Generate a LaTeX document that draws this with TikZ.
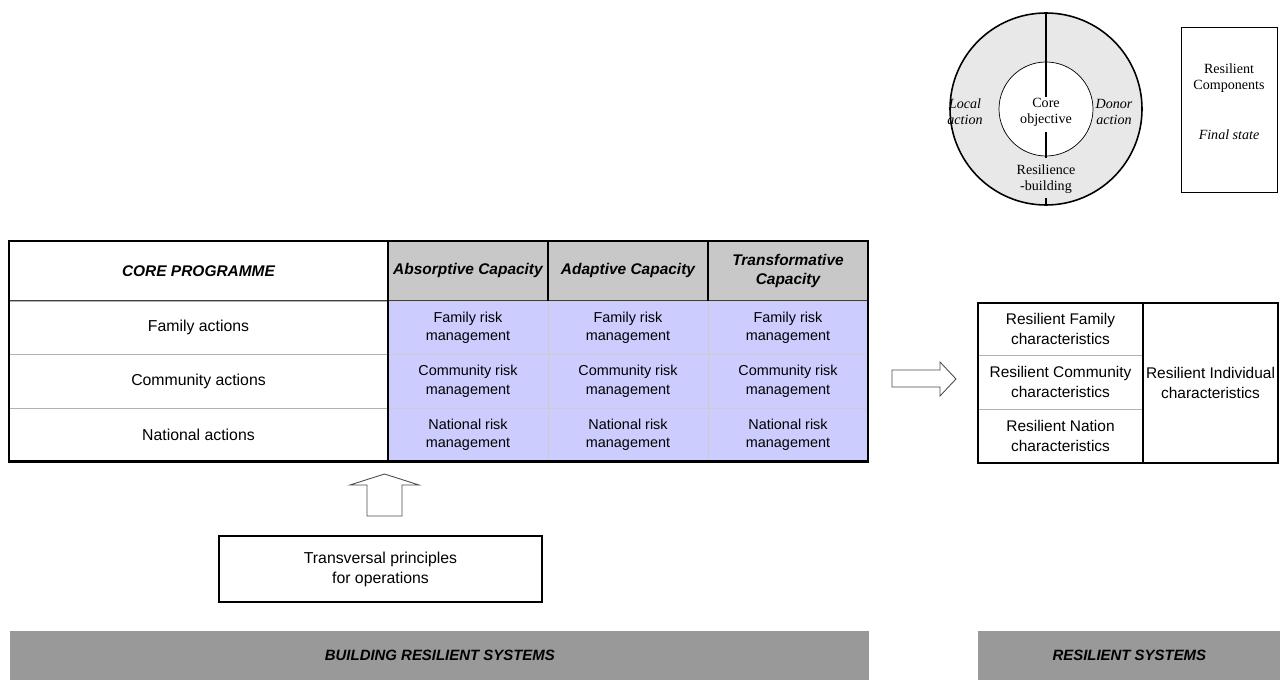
\documentclass[tikz,border=0pt]{standalone}
\usepackage{fontspec}
\setmainfont{Liberation Sans}
\newfontfamily\serifface{Liberation Serif}
\usetikzlibrary{positioning}
\definecolor{headgray}{RGB}{200,200,200}
\definecolor{riskblue}{RGB}{204,204,255}
\definecolor{bandgray}{RGB}{153,153,153}
\definecolor{ringgray}{RGB}{232,232,232}
\tikzstyle{cell_base} = [rectangle, inner sep=1pt, outer sep=0pt, align=center, minimum height=1.07cm]
\tikzstyle{head_cell} = [cell_base, minimum height=1.2cm, draw=black!75, line width=0.6pt, fill=headgray, font=\fontsize{8.8}{10.8}\selectfont\bfseries\itshape]
\tikzstyle{action_cell} = [cell_base, draw=black!30, line width=0.5pt, fill=white, minimum width=7.58cm, font=\fontsize{9}{11}\selectfont]
\tikzstyle{risk_cell} = [cell_base, draw=black!20, line width=0.4pt, fill=riskblue, minimum width=3.2cm, font=\fontsize{8.2}{10.4}\selectfont]
\tikzstyle{trait_cell} = [cell_base, draw=black!30, line width=0.5pt, fill=white, minimum width=3.3cm, font=\fontsize{8.8}{11}\selectfont]
\tikzstyle{frame_line} = [line width=1.6pt, black]
\tikzstyle{divider_line} = [line width=0.9pt, black]
\tikzstyle{block_arrow} = [draw=black!70, line width=0.5pt, fill=white, line join=miter]
\tikzstyle{band_node} = [rectangle, fill=bandgray, minimum height=0.98cm, anchor=north west, inner sep=0pt, font=\fontsize{8.5}{10}\selectfont\bfseries\itshape]
\tikzstyle{ring_text} = [font=\fontsize{8}{9}\selectfont\serifface, align=center, inner sep=0pt]

\begin{document}
\begin{tikzpicture}
\useasboundingbox (0,0) rectangle (25.6,-13.6);

% core programme table
\node (core_head) [head_cell, fill=white, minimum width=7.58cm, anchor=north west] at (0.18,-4.82) {CORE PROGRAMME};
\node (absorb_head) [head_cell, minimum width=3.2cm, right=0pt of core_head] {Absorptive Capacity};
\node (adapt_head) [head_cell, minimum width=3.2cm, right=0pt of absorb_head] {Adaptive Capacity};
\node (transf_head) [head_cell, minimum width=3.2cm, right=0pt of adapt_head] {Transformative\\Capacity};

\node (family_act) [action_cell, below=0pt of core_head] {Family actions};
\node (comm_act) [action_cell, below=0pt of family_act] {Community actions};
\node (natl_act) [action_cell, below=0pt of comm_act] {National actions};

\node (absorb_fam) [risk_cell, below=0pt of absorb_head] {Family risk\\management};
\node (absorb_comm) [risk_cell, below=0pt of absorb_fam] {Community risk\\management};
\node (absorb_natl) [risk_cell, below=0pt of absorb_comm] {National risk\\management};
\node (adapt_fam) [risk_cell, below=0pt of adapt_head] {Family risk\\management};
\node (adapt_comm) [risk_cell, below=0pt of adapt_fam] {Community risk\\management};
\node (adapt_natl) [risk_cell, below=0pt of adapt_comm] {National risk\\management};
\node (transf_fam) [risk_cell, below=0pt of transf_head] {Family risk\\management};
\node (transf_comm) [risk_cell, below=0pt of transf_fam] {Community risk\\management};
\node (transf_natl) [risk_cell, below=0pt of transf_comm] {National risk\\management};

\draw [frame_line] (core_head.north west) rectangle (transf_natl.south east);
\draw [frame_line] (core_head.north east) -- (natl_act.south east);
\draw [divider_line] (absorb_head.north east) -- (absorb_head.south east);
\draw [divider_line] (adapt_head.north east) -- (adapt_head.south east);

% principles below the table
\draw [block_arrow] (7.34,-10.32) -- (7.34,-9.70) -- (7.00,-9.70) -- (7.69,-9.48) -- (8.38,-9.70) -- (8.04,-9.70) -- (8.04,-10.32) -- cycle;
\node (transv) [rectangle, draw, line width=1.3pt, minimum width=6.46cm, minimum height=1.32cm, align=center, font=\fontsize{9}{11.3}\selectfont] at (7.61,-11.38) {Transversal principles\\for operations};

% resilient characteristics table
\draw [block_arrow] (17.84,-7.40) -- (18.80,-7.40) -- (18.80,-7.24) -- (19.12,-7.58) -- (18.80,-7.92) -- (18.80,-7.74) -- (17.84,-7.74) -- cycle;
\node (fam_trait) [trait_cell, minimum height=1.04cm, anchor=north west] at (19.56,-6.06) {Resilient Family\\characteristics};
\node (comm_trait) [trait_cell, minimum height=1.08cm, below=0pt of fam_trait] {Resilient Community\\characteristics};
\node (nation_trait) [trait_cell, minimum height=1.08cm, below=0pt of comm_trait] {Resilient Nation\\characteristics};
\node (indiv_trait) [trait_cell, draw=none, minimum width=2.7cm, minimum height=3.2cm, anchor=north west] at (fam_trait.north east) {Resilient Individual\\characteristics};
\draw [frame_line] (fam_trait.north west) rectangle (indiv_trait.south east);
\draw [frame_line] (fam_trait.north east) -- (nation_trait.south east);

% bottom bands
\node (build_band) [band_node, minimum width=17.18cm] at (0.20,-12.62) {BUILDING RESILIENT SYSTEMS};
\node (result_band) [band_node, minimum width=6.04cm] at (19.56,-12.62) {RESILIENT SYSTEMS};

% ring diagram
\coordinate (ring_c) at (20.92,-2.18);
\draw [fill=ringgray, line width=0.9pt] (ring_c) circle (1.92cm);
\draw [fill=white, line width=0.4pt] (ring_c) circle (0.94cm);
\draw [line width=0.8pt] (20.92,-0.26) -- (20.92,-1.94);
\draw [line width=0.8pt] (20.92,-2.64) -- (20.92,-3.16);
\draw [line width=0.8pt] (20.92,-3.96) -- (20.92,-4.10);
\node (ring_core) [ring_text] at (20.92,-2.24) {Core\\objective};
\node (ring_local) [ring_text, font=\fontsize{8}{9}\selectfont\serifface\itshape] at (19.30,-2.24) {Local\\action};
\node (ring_donor) [ring_text, font=\fontsize{8}{9}\selectfont\serifface\itshape] at (22.28,-2.24) {Donor\\action};
\node (ring_build) [ring_text] at (20.92,-3.58) {Resilience\\-building};

% final state box
\node (final_box) [rectangle, draw, line width=0.6pt, minimum width=1.92cm, minimum height=3.3cm, anchor=north west] at (23.62,-0.54) {};
\node (final_title) [ring_text] at (24.58,-1.56) {Resilient\\Components};
\node (final_state) [ring_text, font=\fontsize{8}{9}\selectfont\serifface\itshape] at (24.58,-2.70) {Final state};
\end{tikzpicture}
\end{document}
